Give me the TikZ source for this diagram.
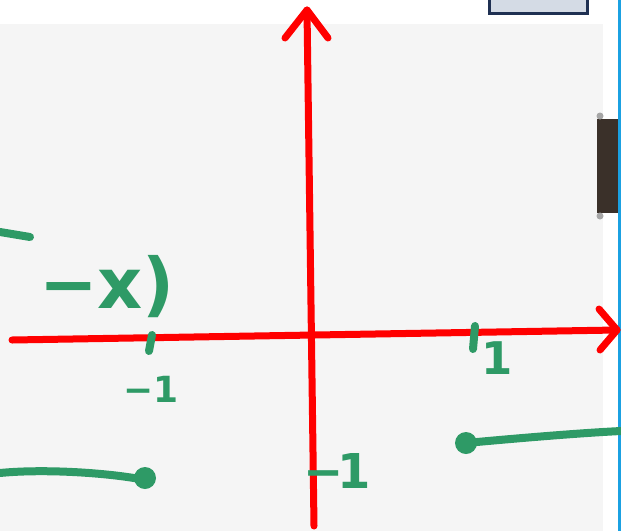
\documentclass[tikz,border=0pt]{standalone}
\usepackage{fontspec}
\setsansfont{DejaVu Sans}
\usetikzlibrary{calc}
\definecolor{Board}{HTML}{F5F5F5}
\definecolor{Pen}{HTML}{2E9A66}
\definecolor{Axis}{HTML}{FF0000}
\definecolor{Frame}{HTML}{1F3052}
\definecolor{Tab}{HTML}{D4DBE5}
\definecolor{Wood}{HTML}{3A3029}
\definecolor{Edge}{HTML}{1BA1E2}
\tikzset{
  axisline/.style={Axis,line width=7pt,line cap=round,line join=round},
  penline/.style={Pen,line width=8pt,line cap=round,line join=round},
}
\newcommand{\PenNum}[5]{%
  \node[text=Pen,inner sep=0pt,font=\sffamily\bfseries\fontsize{#4}{#4}\selectfont] (#1) at (#2,#3) {#5};%
}

\begin{document}
\begin{tikzpicture}[x=1pt,y=-1pt]
\useasboundingbox (0,0) rectangle (621,531);
\fill[white] (0,0) rectangle (621,531);
\fill[Board] (0,24) rectangle (603,531);
\fill[Edge] (618,0) rectangle (621,531);
\draw[Frame,line width=3pt,fill=Tab] (489,-4) rectangle (587,13);
\fill[Wood] (597,119) rectangle (618,213);
\foreach \y in {116,216} \fill[gray!70] (600,\y) circle (3.5);
% axes
\coordinate (xl) at (12,340);
\coordinate (xr) at (617,330);
\coordinate (yb) at (314,526);
\coordinate (yt) at (307,10);
\draw[axisline] (xl) -- (xr);
\draw[axisline] ($(xr)+(-18,-21)$) -- (xr) -- ($(xr)+(-17,20)$);
\draw[axisline] (yb) -- (yt);
\draw[axisline] ($(yt)+(-22,28)$) -- (yt) -- ($(yt)+(21,28)$);
% ticks
\draw[penline] (152,335) -- (149,351);
\draw[penline] (475,326) -- (473,349);
% graph pieces
\draw[penline] (0,232) -- (30,237);
\draw[penline] (0,473) .. controls (40,469) and (100,472) .. (140,479);
\draw[penline] (466,443) .. controls (520,438) and (580,433) .. (621,431);
\foreach \p in {(145,478),(466,443)} \fill[Pen] \p circle (11);
% labels
\PenNum{fx}{107}{287}{70}{−x)}
\PenNum{xm}{151}{389}{36}{−1}
\PenNum{xp}{497}{358}{45}{1}
\PenNum{ym}{337}{471}{48}{−\kern-0.12em1}
\end{tikzpicture}
\end{document}
